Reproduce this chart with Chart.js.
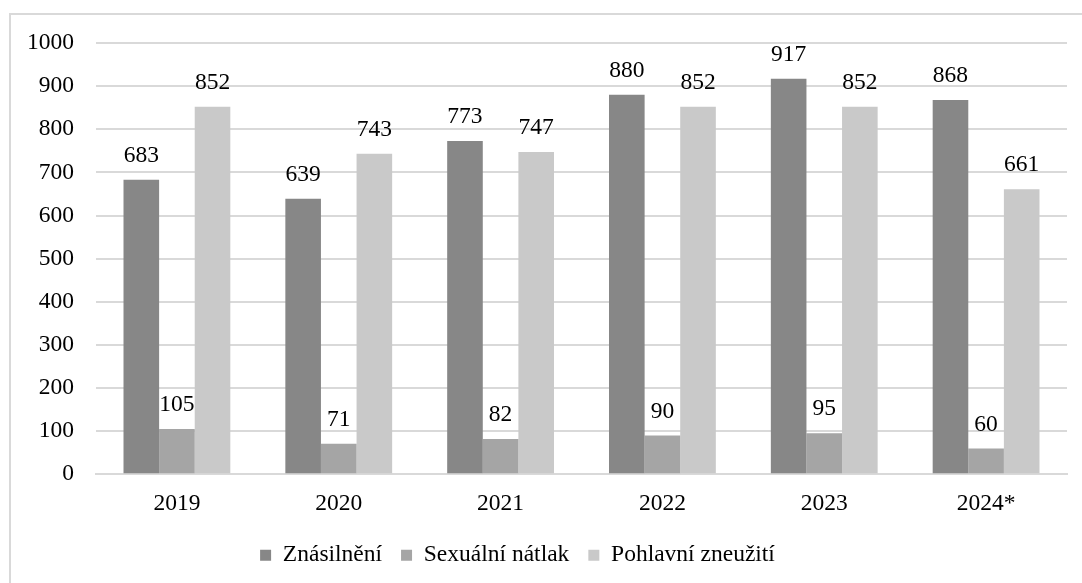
<!DOCTYPE html>
<html>
<head>
<meta charset="utf-8">
<script src="https://cdn.jsdelivr.net/npm/chart.js@4/dist/chart.umd.min.js"></script>
<style>
  body { margin: 0; background: #fff; }
  #frame { position: absolute; left: 9px; top: 13px; width: 1080px; height: 580px;
           border-left: 2px solid #d9d9d9; border-top: 2px solid #d9d9d9; }
  #wrap { position: absolute; left: 0; top: 0; width: 1082px; height: 583px; }
</style>
</head>
<body>
<div id="frame"></div>
<div id="wrap"><canvas id="myChart" width="1082" height="583"></canvas></div>
<script>
const years = ['2019', '2020', '2021', '2022', '2023', '2024*'];
const znasilneni = [683, 639, 773, 880, 917, 868];
const natlak = [105, 71, 82, 90, 95, 60];
const zneuziti = [852, 743, 747, 852, 852, 661];
const yTicks = [0, 100, 200, 300, 400, 500, 600, 700, 800, 900, 1000];

const FONT = "'Liberation Serif', 'Times New Roman', serif";
const FSIZE = 23.5;

// values above the bars
const valueLabels = {
    id: 'valueLabels',
    afterDatasetsDraw(chart) {
        const ctx = chart.ctx;
        ctx.save();
        ctx.font = FSIZE + 'px ' + FONT;
        ctx.fillStyle = '#000';
        ctx.textAlign = 'center';
        ctx.textBaseline = 'middle';
        chart.data.datasets.forEach((ds, i) => {
            chart.getDatasetMeta(i).data.forEach((bar, j) => {
                ctx.fillText(ds.data[j], bar.x, bar.y - 24);
            });
        });
        ctx.restore();
    }
};

// legend in the reference sits a bit left of the canvas centre
const shiftLegend = {
    id: 'shiftLegend',
    afterLayout(chart) {
        const lg = chart.legend;
        lg.left -= 16;
        lg.right -= 16;
        lg.adjustHitBoxes();
    }
};

const ctx = document.getElementById('myChart').getContext('2d');
new Chart(ctx, {
    type: 'bar',
    data: {
        labels: years,
        datasets: [
            { label: 'Znásilnění', data: znasilneni, backgroundColor: '#878787' },
            { label: 'Sexuální nátlak', data: natlak, backgroundColor: '#a5a5a5' },
            { label: 'Pohlavní zneužití', data: zneuziti, backgroundColor: '#c9c9c9' }
        ]
    },
    options: {
        responsive: false,
        animation: false,
        layout: { padding: { left: 0, right: 15, top: 43, bottom: 6 } },
        datasets: { bar: { barPercentage: 1, categoryPercentage: 0.66 } },
        scales: {
            x: {
                grid: { display: false },
                border: { color: '#d9d9d9', width: 2 },
                ticks: { color: '#000', font: { family: FONT, size: FSIZE }, padding: 7 }
            },
            y: {
                min: 0,
                max: 1000,
                afterBuildTicks(scale) { scale.ticks = yTicks.map(v => ({ value: v })); },
                afterFit(scale) { scale.width = 96; },
                grid: { color: '#d9d9d9', lineWidth: 2, drawTicks: false },
                border: { display: false },
                ticks: {
                    color: '#000',
                    font: { family: FONT, size: FSIZE },
                    padding: 22,
                    callback: v => String(v)
                }
            }
        },
        plugins: {
            legend: {
                position: 'bottom',
                labels: {
                    color: '#000',
                    font: { family: FONT, size: FSIZE },
                    boxWidth: 11,
                    boxHeight: 11,
                    padding: 19
                }
            },
            tooltip: { enabled: false }
        }
    },
    plugins: [valueLabels, shiftLegend]
});
</script>
</body>
</html>
